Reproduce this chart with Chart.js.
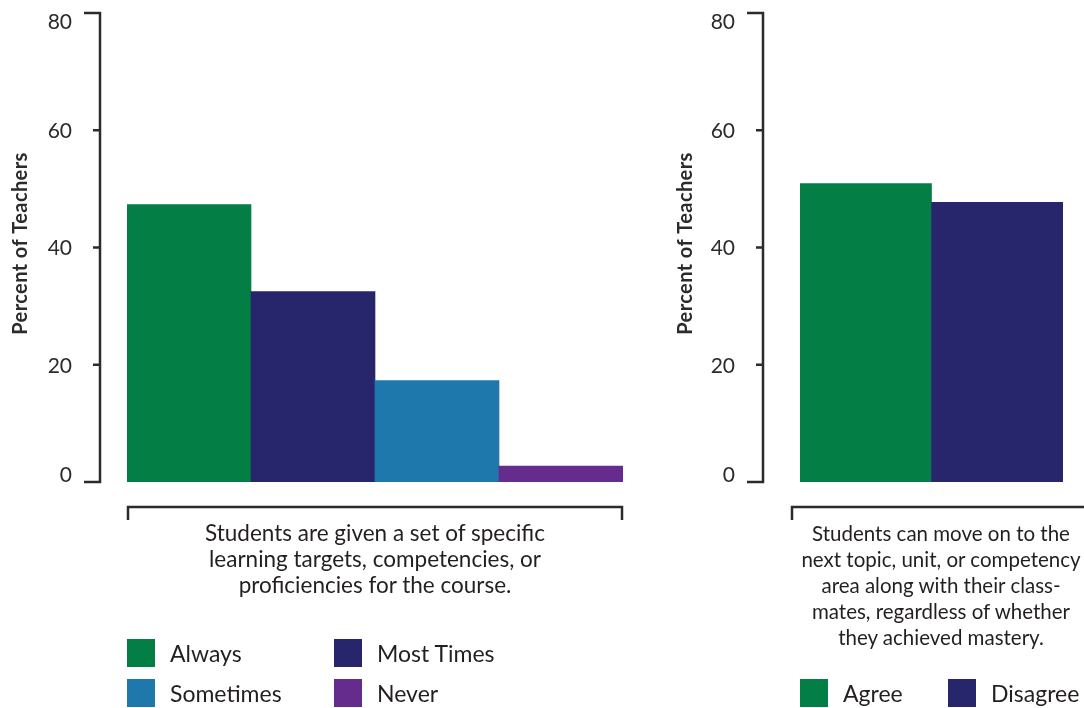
<!DOCTYPE html>
<html>
<head>
<meta charset="utf-8">
<script src="https://cdn.jsdelivr.net/npm/chart.js@4.4.1/dist/chart.umd.min.js"></script>
<style>
  body { margin: 0; background: #fff; font-family: Lato, "Open Sans", sans-serif; color: #231f20; }
  #wrap { position: relative; width: 1084px; height: 708px; overflow: hidden; }
  canvas { position: absolute; top: 0; }
  .caption { position: absolute; top: 520px; text-align: center; line-height: 26px; white-space: nowrap; }
  .legend { position: absolute; display: grid; row-gap: 12px; font-size: 23px; }
  .legend .item { display: flex; align-items: center; height: 28px; }
  .legend .sw { width: 28px; height: 28px; margin-right: 15px; flex: none; }
</style>
</head>
<body>
<div id="wrap">
  <canvas id="left" width="650" height="708" style="left:0"></canvas>
  <canvas id="right" width="434" height="708" style="left:650px"></canvas>
  <div class="caption" id="cap-left" style="left:127px;width:496px;font-size:22.5px"></div>
  <div class="caption" id="cap-right" style="left:781px;width:320px;font-size:20.5px"></div>
  <div class="legend" id="leg-left" style="left:127px;top:639px;grid-template-columns:207px 207px"></div>
  <div class="legend" id="leg-right" style="left:800px;top:679px;grid-template-columns:148px 148px"></div>
</div>
<script>
// data
const leftCategories = ['Always', 'Most Times', 'Sometimes', 'Never'];
const leftValues = [47.3, 32.5, 17.3, 2.7];
const rightCategories = ['Agree', 'Disagree'];
const rightValues = [50.9, 47.7];
const yTicks = [0, 20, 40, 60, 80];
const yTitle = 'Percent of Teachers';
const leftCaption = ['Students are given a set of specific', 'learning targets, competencies, or', 'proficiencies for the course.'];
const rightCaption = ['Students can move on to the', 'next topic, unit, or competency', 'area along with their class-', 'mates, regardless of whether', 'they achieved mastery.'];

const GREEN = '#037f45', NAVY = '#27266c', BLUE = '#1f78ac', PURPLE = '#652c8e';
const leftColors = [GREEN, NAVY, BLUE, PURPLE];
const rightColors = [GREEN, NAVY];
const INK = '#2b2b2b';

// axis line, ticks, tick labels, rotated title and bracket under the bars
const axisPlugin = {
    id: 'axisPlugin',
    afterDraw(chart, args, opts) {
        const ctx = chart.ctx;
        const y = chart.scales.y;
        const area = chart.chartArea;
        const ax = area.left - opts.gap;
        const yMin = yTicks[0], yMax = yTicks[yTicks.length - 1];
        ctx.save();
        ctx.strokeStyle = INK;
        ctx.lineWidth = 2.5;
        ctx.lineCap = 'butt';
        ctx.beginPath();
        ctx.moveTo(ax, y.getPixelForValue(yMax) - 1.25);
        ctx.lineTo(ax, y.getPixelForValue(yMin) + 1.25);
        yTicks.forEach(v => {
            const py = y.getPixelForValue(v);
            const len = (v === yMin || v === yMax) ? 16 : 7;
            ctx.moveTo(ax - len, py);
            ctx.lineTo(ax + 1.25, py);
        });
        ctx.stroke();

        ctx.fillStyle = INK;
        ctx.font = '21px Lato';
        ctx.textAlign = 'right';
        ctx.textBaseline = 'middle';
        yTicks.forEach(v => {
            const py = y.getPixelForValue(v);
            const off = v === yMax ? 9 : v === yMin ? -7 : 1;
            ctx.fillText(String(v), ax - 28, py + off);
        });

        ctx.save();
        ctx.translate(opts.titleX, (area.top + area.bottom) / 2 - 4);
        ctx.rotate(-Math.PI / 2);
        ctx.font = 'bold 20px Lato';
        ctx.letterSpacing = '0.4px';
        ctx.textAlign = 'center';
        ctx.fillText(yTitle, 0, 0);
        ctx.restore();

        // bracket
        const bl = area.left + opts.bracketLeft;
        const br = area.right + opts.bracketRight;
        const by = area.bottom + 25;
        ctx.lineWidth = 2.5;
        ctx.beginPath();
        ctx.moveTo(bl, by + 13);
        ctx.lineTo(bl, by);
        ctx.lineTo(br, by);
        ctx.lineTo(br, by + 13);
        ctx.stroke();
        ctx.restore();
    }
};

const makeChart = (id, labels, values, colors, padding, extra) => new Chart(document.getElementById(id).getContext('2d'), {
    type: 'bar',
    data: {
        labels,
        datasets: [{
            data: values,
            backgroundColor: colors,
            borderWidth: 0,
            barPercentage: 1,
            categoryPercentage: 1
        }]
    },
    options: {
        responsive: false,
        animation: false,
        layout: { padding },
        scales: {
            x: { display: false },
            y: { display: false, min: 0, max: 80 }
        },
        plugins: {
            legend: { display: false },
            tooltip: { enabled: false },
            axisPlugin: extra
        }
    },
    plugins: [axisPlugin]
});

makeChart('left', leftCategories, leftValues, leftColors,
    { left: 127, right: 27, top: 13, bottom: 226 },
    { gap: 27, titleX: 21, bracketLeft: 1, bracketRight: -1 });
makeChart('right', rightCategories, rightValues, rightColors,
    { left: 150, right: 21, top: 13, bottom: 226 },
    { gap: 37, titleX: 36, bracketLeft: -8, bracketRight: 60 });

const fillCaption = (id, lines) => {
    document.getElementById(id).innerHTML = lines.join('<br>');
};
fillCaption('cap-left', leftCaption);
fillCaption('cap-right', rightCaption);

const fillLegend = (id, labels, colors) => {
    document.getElementById(id).innerHTML = labels.map((l, i) =>
        `<div class="item"><span class="sw" style="background:${colors[i]}"></span>${l}</div>`).join('');
};
fillLegend('leg-left', leftCategories, leftColors);
fillLegend('leg-right', rightCategories, rightColors);
</script>
</body>
</html>
